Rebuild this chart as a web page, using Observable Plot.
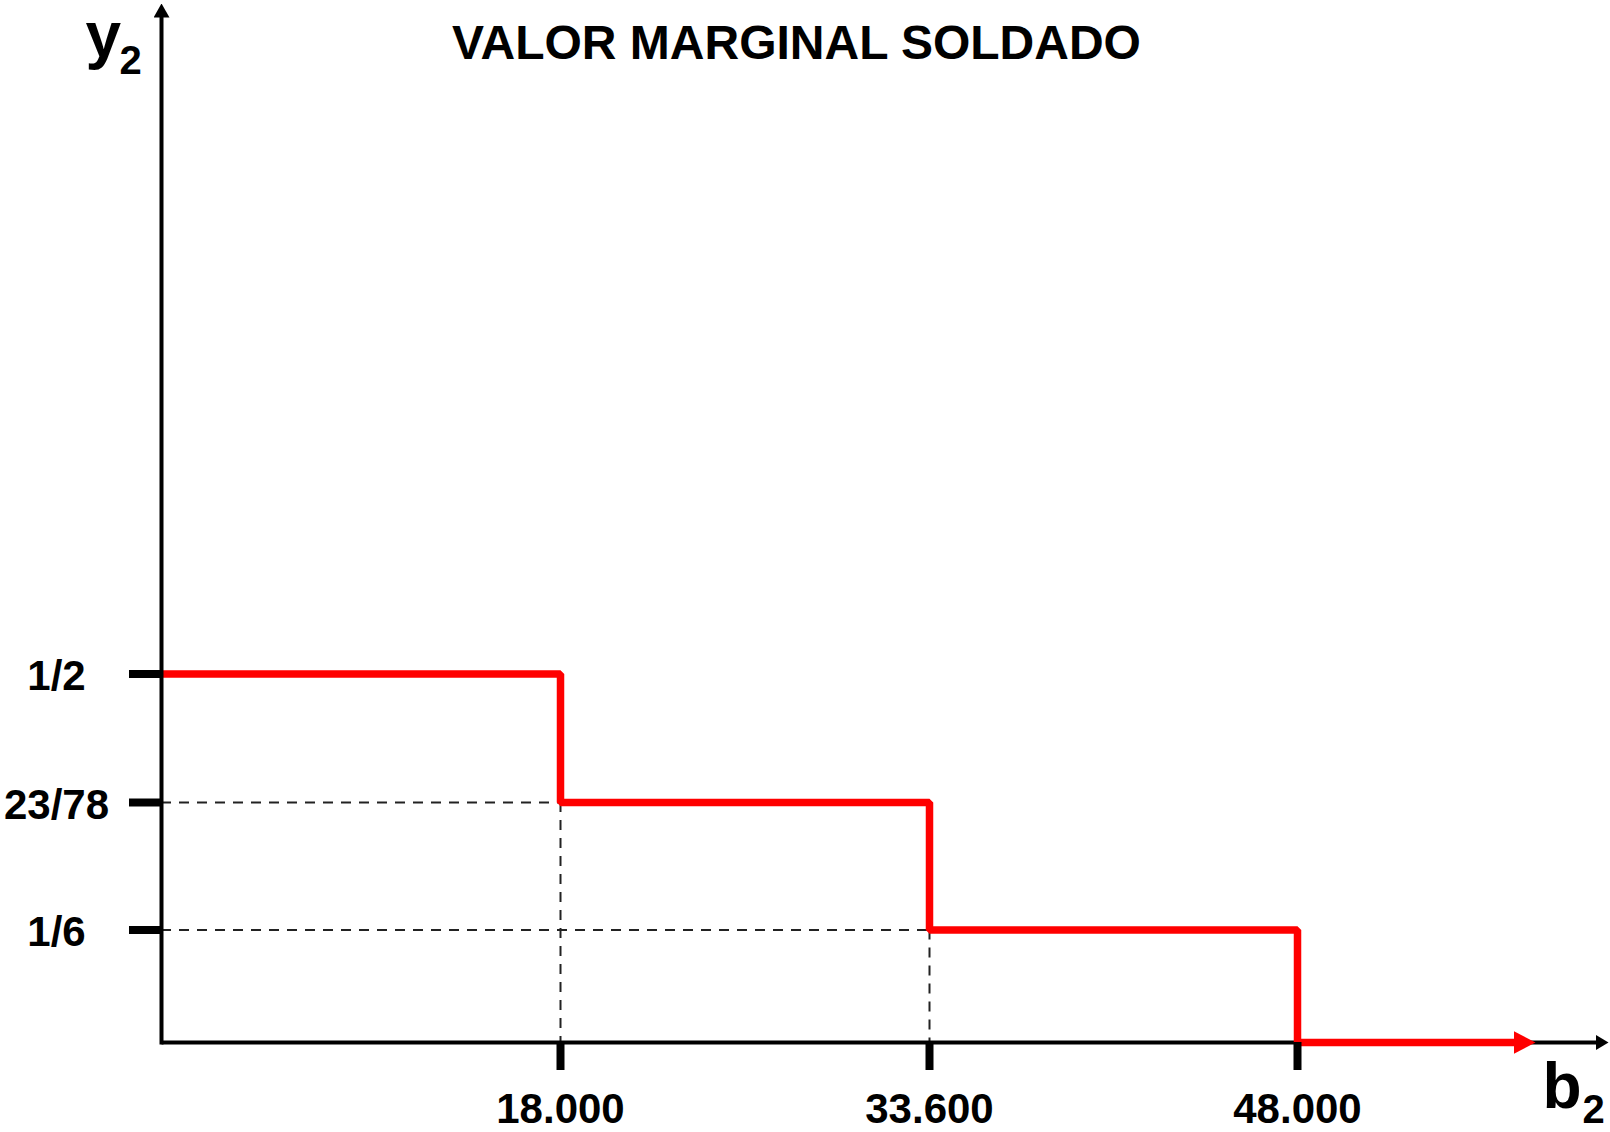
<!DOCTYPE html>
<html lang="es">
<head>
<meta charset="utf-8">
<title>Valor marginal soldado</title>
<script src="https://cdn.jsdelivr.net/npm/d3@7"></script>
<script src="https://cdn.jsdelivr.net/npm/@observablehq/plot@0.6"></script>
<style>
  html, body { margin: 0; padding: 0; background: #fff; }
  #chart svg { display: block; }
</style>
</head>
<body>
<div id="chart"></div>
<script>
// Step function of the marginal value y2 against the resource b2
const breakpoints = [0, 18000, 33600, 48000, 57000];
const marginalValues = [1 / 2, 23 / 78, 1 / 6, 0, 0];

// Tick values and their printed labels
const xTickValues = [18000, 33600, 48000];
const xTickLabels = ["18.000", "33.600", "48.000"];
const yTickValues = [1 / 2, 23 / 78, 1 / 6];
const yTickLabels = ["1/2", "23/78", "1/6"];

// Extent of the drawn axes (in data units)
const xAxisEnd = 60000;
const yAxisEnd = 1;

const steps = breakpoints.map((b, i) => ({b2: b, y2: marginalValues[i]}));

// Dashed guides from each lower step back to both axes
const guidesH = [
  {y: yTickValues[1], x2: xTickValues[0]},
  {y: yTickValues[2], x2: xTickValues[1]}
];
const guidesV = [
  {x: xTickValues[0], y1: yTickValues[1]},
  {x: xTickValues[1], y1: yTickValues[2]}
];

const xTicks = xTickValues.map((v, i) => ({value: v, label: xTickLabels[i]}));
const yTicks = yTickValues.map((v, i) => ({value: v, label: yTickLabels[i]}));

// Filled triangular arrowhead usable as a Plot marker
function filledArrow(len, halfWidth, overhang) {
  return (color) => {
    const m = d3.create("svg:marker")
      .attr("viewBox", `0 ${-halfWidth} ${len} ${2 * halfWidth}`)
      .attr("markerWidth", len)
      .attr("markerHeight", 2 * halfWidth)
      .attr("markerUnits", "userSpaceOnUse")
      .attr("refX", len - overhang)
      .attr("refY", 0)
      .attr("orient", "auto")
      .attr("fill", color)
      .attr("stroke", "none");
    m.append("path").attr("d", `M0,${-halfWidth}L${len},0L0,${halfWidth}Z`);
    return m.node();
  };
}

const font = "'Liberation Sans', Arial, Helvetica, sans-serif";

const chart = Plot.plot({
  width: 1610,
  height: 1132,
  marginLeft: 161,
  marginRight: 0,
  marginTop: 0,
  marginBottom: 90,
  style: {background: "#fff", color: "#000", fontFamily: font},
  // Schematic axes: the breakpoints are spaced evenly, so both scales are piecewise linear
  x: {type: "linear", domain: [0, ...xTickValues, xAxisEnd], range: [161, 560, 929, 1297, 1601]},
  y: {type: "linear", domain: [0, ...yTickValues.slice().reverse(), yAxisEnd], range: [1042, 929.5, 802, 673.5, 10]},
  marks: [
    // guides
    Plot.ruleY(guidesH, {y: "y", x1: 0, x2: "x2", stroke: "#222", strokeWidth: 2, strokeDasharray: "10,8"}),
    Plot.ruleX(guidesV, {x: "x", y1: "y1", y2: 0, stroke: "#222", strokeWidth: 2, strokeDasharray: "10,8"}),
    // horizontal axis line
    Plot.link([0], {x1: 0, y1: 0, x2: xAxisEnd, y2: 0, stroke: "#000", strokeWidth: 4,
      markerEnd: filledArrow(13, 7.75, 7)}),
    // marginal value step curve
    Plot.line(steps, {x: "b2", y: "y2", curve: "step-after", stroke: "#ff0000", strokeWidth: 7.5,
      strokeLinejoin: "miter", strokeLinecap: "butt", markerEnd: filledArrow(22, 11.5, 10)}),
    // vertical axis line
    Plot.link([0], {x1: 0, y1: 0, x2: 0, y2: yAxisEnd, stroke: "#000", strokeWidth: 4, strokeLinecap: "square",
      markerEnd: filledArrow(14, 8, 7)}),
    // heavy tick marks (labels drawn separately below)
    Plot.axisX(xTickValues, {anchor: "bottom", tickSize: 28, strokeWidth: 8, fill: "none", label: null}),
    Plot.axisY(yTickValues, {anchor: "left", tickSize: 32, strokeWidth: 8, fill: "none", label: null}),
    // tick labels
    Plot.text(xTicks, {x: "value", text: "label", frameAnchor: "bottom", dy: 80, lineAnchor: "bottom",
      textAnchor: "middle", fontSize: 42, fontWeight: "bold"}),
    Plot.text(yTicks, {y: "value", text: "label", frameAnchor: "left", dx: 56 - 161, dy: 16, lineAnchor: "bottom",
      textAnchor: "middle", fontSize: 42, fontWeight: "bold"}),
    // title and axis names
    Plot.text(["VALOR MARGINAL SOLDADO"], {frameAnchor: "top-left", dx: 635, dy: 58, lineAnchor: "bottom",
      textAnchor: "middle", fontSize: 48, fontWeight: "bold"}),
    Plot.text(["y"], {frameAnchor: "top-left", dx: 85 - 161, dy: 56, lineAnchor: "bottom",
      textAnchor: "start", fontSize: 64, fontWeight: "bold"}),
    Plot.text(["2"], {frameAnchor: "top-left", dx: 119 - 161, dy: 73, lineAnchor: "bottom",
      textAnchor: "start", fontSize: 40, fontWeight: "bold"}),
    Plot.text(["b"], {frameAnchor: "top-left", dx: 1542 - 161, dy: 1107, lineAnchor: "bottom",
      textAnchor: "start", fontSize: 64, fontWeight: "bold"}),
    Plot.text(["2"], {frameAnchor: "top-left", dx: 1582 - 161, dy: 1122, lineAnchor: "bottom",
      textAnchor: "start", fontSize: 40, fontWeight: "bold"})
  ]
});

document.getElementById("chart").append(chart);
</script>
</body>
</html>
